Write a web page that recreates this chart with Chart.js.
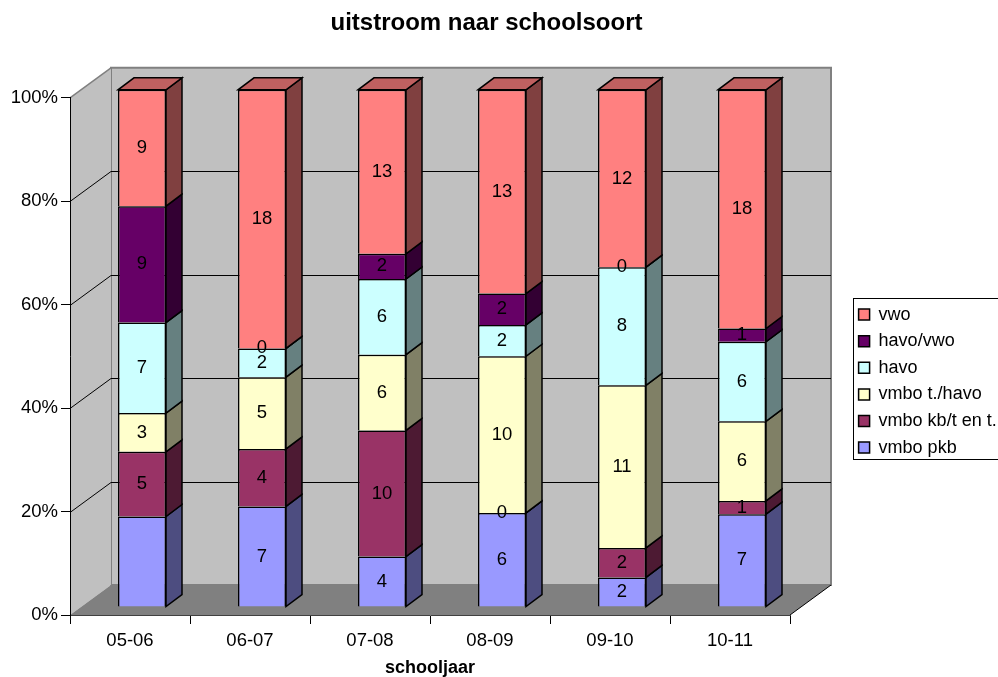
<!DOCTYPE html>
<html>
<head>
<meta charset="utf-8">
<title>uitstroom naar schoolsoort</title>
<script src="https://cdn.jsdelivr.net/npm/chart.js@4"></script>
<style>
body { margin: 0; background: #fff; overflow: hidden; }
canvas { display: block; }
</style>
</head>
<body>
<canvas id="myChart" width="998" height="677"></canvas>
<script>
const years = ['05-06', '06-07', '07-08', '08-09', '09-10', '10-11'];

const pkb = [7, 7, 4, 6, 2, 7];
const kbt = [5, 4, 10, 0, 2, 1];
const thavo = [3, 5, 6, 10, 11, 6];
const havo = [7, 2, 6, 2, 8, 6];
const havovwo = [9, 0, 2, 2, 0, 1];
const vwo = [9, 18, 13, 13, 12, 18];

const yTicks = [0, 20, 40, 60, 80, 100];

const seriesNames = ['vmbo pkb', 'vmbo kb/t en t.', 'vmbo t./havo', 'havo', 'havo/vwo', 'vwo'];
const seriesValues = [pkb, kbt, thavo, havo, havovwo, vwo];
const seriesColors = ['#9999FF', '#993366', '#FFFFCC', '#CCFFFF', '#660066', '#FF8080'];

// this one has no label in the picture
const noLabel = ['0-0'];

// depth of the box and of the bars
const wallDx = 41, wallDy = -30;
const barShiftX = 12, barShiftY = -8;
const barDx = 16, barDy = -12;

const totals = years.map((y, i) => seriesValues.reduce((s, v) => s + v[i], 0));

function shade(hex, f) {
    const n = parseInt(hex.slice(1), 16);
    const r = Math.round((n >> 16) * f);
    const g = Math.round(((n >> 8) & 255) * f);
    const b = Math.round((n & 255) * f);
    return 'rgb(' + r + ',' + g + ',' + b + ')';
}

function poly(ctx, pts, fill, stroke, lw) {
    ctx.beginPath();
    pts.forEach((p, i) => i ? ctx.lineTo(p[0], p[1]) : ctx.moveTo(p[0], p[1]));
    ctx.closePath();
    if (fill) { ctx.fillStyle = fill; ctx.fill(); }
    if (stroke) { ctx.strokeStyle = stroke; ctx.lineWidth = lw; ctx.stroke(); }
}

const boxPlugin = {
    id: 'box',
    beforeLayout(chart) {
        const legend = chart.legend;
        if (!legend._fitPatched) {
            const fit = legend.fit;
            legend.fit = function () { fit.call(this); this.width = 208; };
            legend._fitPatched = true;
        }
    },
    afterLayout(chart) {
        // legend and title sit off-centre in the original
        chart.legend.left = 850;
        chart.legend.right = 998;
        chart.legend.top = 297;
        chart.titleBlock.left = -25;
        chart.titleBlock.right = 998;
    },
    beforeDraw(chart) {
        const ctx = chart.ctx;
        const a = chart.chartArea;
        const y = chart.scales.y;
        ctx.save();
        // back wall and left wall
        poly(ctx, [[a.left + wallDx, a.top + wallDy], [a.right + wallDx, a.top + wallDy],
            [a.right + wallDx, a.bottom + wallDy], [a.left + wallDx, a.bottom + wallDy]], '#C0C0C0', '#808080', 2);
        poly(ctx, [[a.left, a.top], [a.left + wallDx, a.top + wallDy],
            [a.left + wallDx, a.bottom + wallDy], [a.left, a.bottom]], '#C0C0C0', null);
        ctx.strokeStyle = '#808080';
        ctx.lineWidth = 1.5;
        ctx.beginPath();
        ctx.moveTo(a.left, a.top);
        ctx.lineTo(a.left + wallDx, a.top + wallDy);
        ctx.stroke();
        // floor
        poly(ctx, [[a.left, a.bottom], [a.right, a.bottom],
            [a.right + wallDx, a.bottom + wallDy], [a.left + wallDx, a.bottom + wallDy]], '#808080', null);
        ctx.strokeStyle = '#000';
        ctx.lineWidth = 1;
        ctx.beginPath();
        ctx.moveTo(a.right, a.bottom);
        ctx.lineTo(a.right + wallDx, a.bottom + wallDy);
        ctx.stroke();
        // gridlines go round the left wall and along the back
        yTicks.forEach(t => {
            if (t === 0 || t === 100) return;
            const py = Math.round(y.getPixelForValue(t)) + 0.5;
            ctx.beginPath();
            ctx.moveTo(a.left, py);
            ctx.lineTo(a.left + wallDx, py + wallDy);
            ctx.lineTo(a.right + wallDx, py + wallDy);
            ctx.stroke();
        });
        ctx.restore();
    },
    beforeDatasetsDraw(chart) {
        const ctx = chart.ctx;
        ctx.save();
        chart.data.datasets.forEach((ds, i) => {
            chart.getDatasetMeta(i).data.forEach(bar => {
                const right = bar.x + bar.width / 2 + barShiftX;
                const left = bar.x - bar.width / 2 + barShiftX;
                const t = bar.y + barShiftY, b = bar.base + barShiftY;
                poly(ctx, [[right, t], [right + barDx, t + barDy], [right + barDx, b + barDy], [right, b]],
                    shade(seriesColors[i], 0.5), '#000', 1.5);
                if (i === seriesColors.length - 1) {
                    poly(ctx, [[left, t], [right, t], [right + barDx, t + barDy], [left + barDx, t + barDy]],
                        shade(seriesColors[i], 0.75), '#000', 1.5);
                }
            });
        });
        ctx.restore();
        // the fronts of the bars stand a little behind the axis plane
        ctx.save();
        ctx.translate(barShiftX, barShiftY);
    },
    afterDatasetsDraw(chart) {
        const ctx = chart.ctx;
        ctx.restore();
        ctx.save();
        ctx.fillStyle = '#000';
        ctx.font = '18.5px "Liberation Sans"';
        ctx.textAlign = 'center';
        ctx.textBaseline = 'middle';
        chart.data.datasets.forEach((ds, i) => {
            chart.getDatasetMeta(i).data.forEach((bar, j) => {
                if (noLabel.includes(i + '-' + j)) return;
                ctx.fillText(seriesValues[i][j], bar.x + barShiftX, (bar.y + bar.base) / 2 + barShiftY);
            });
        });
        ctx.restore();
    },
    afterDraw(chart) {
        const ctx = chart.ctx;
        ctx.save();
        ctx.strokeStyle = '#000';
        ctx.lineWidth = 1;
        ctx.strokeRect(853.5, 298.5, 150, 161);
        ctx.restore();
    }
};

const myChart = new Chart(document.getElementById('myChart'), {
    type: 'bar',
    data: {
        labels: years,
        datasets: seriesNames.map((name, i) => ({
            label: name,
            data: seriesValues[i].map((v, j) => v / totals[j] * 100),
            backgroundColor: seriesColors[i],
            borderColor: '#000',
            borderWidth: 1.5,
            barPercentage: 0.4,
            categoryPercentage: 1,
            clip: false
        }))
    },
    options: {
        responsive: false,
        animation: false,
        layout: { padding: { left: 0, right: 0, top: 0, bottom: 0 } },
        scales: {
            x: {
                stacked: true,
                afterFit(scale) { scale.height = 62; },
                grid: { drawOnChartArea: false, tickLength: 9, color: '#000' },
                border: { color: '#404040' },
                ticks: { color: '#000', font: { family: 'Liberation Sans', size: 18.5 }, padding: 6, maxRotation: 0 },
                title: {
                    display: true,
                    text: 'schooljaar',
                    color: '#000',
                    font: { family: 'Liberation Sans', size: 18, weight: 'bold' },
                    padding: { top: 2, bottom: -2 }
                }
            },
            y: {
                stacked: true,
                min: 0,
                max: 100,
                afterFit(scale) { scale.width = 70; },
                afterBuildTicks(scale) { scale.ticks = yTicks.map(v => ({ value: v })); },
                grid: { drawOnChartArea: false, tickLength: 9, color: '#000' },
                border: { color: '#000' },
                ticks: {
                    color: '#000',
                    font: { family: 'Liberation Sans', size: 18.5 },
                    padding: 3,
                    callback: v => v + '%'
                }
            }
        },
        plugins: {
            title: {
                display: true,
                text: 'uitstroom naar schoolsoort',
                color: '#000',
                font: { family: 'Liberation Sans', size: 24, weight: 'bold' },
                padding: { top: 9, bottom: 60 }
            },
            legend: {
                position: 'right',
                align: 'start',
                reverse: true,
                labels: {
                    boxWidth: 11,
                    boxHeight: 11,
                    padding: 8.6,
                    color: '#000',
                    font: { family: 'Liberation Sans', size: 18 }
                }
            },
            tooltip: { enabled: false }
        }
    },
    plugins: [boxPlugin]
});
</script>
</body>
</html>
